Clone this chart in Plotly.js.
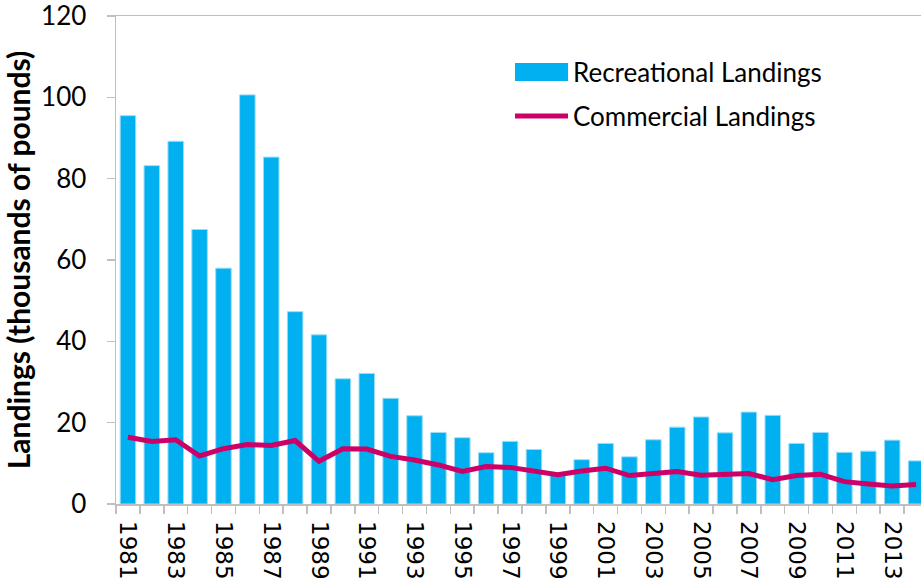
<!DOCTYPE html>
<html>
<head>
<meta charset="utf-8">
<script src="https://cdn.plot.ly/plotly-3.0.1.min.js"></script>
<style>
  html, body { margin: 0; padding: 0; overflow: hidden; background: #ffffff; }
  #chart { width: 940px; height: 581px; }
</style>
</head>
<body>
<div id="chart"></div>
<script>
var years = [1981, 1982, 1983, 1984, 1985, 1986, 1987, 1988, 1989, 1990,
             1991, 1992, 1993, 1994, 1995, 1996, 1997, 1998, 1999, 2000,
             2001, 2002, 2003, 2004, 2005, 2006, 2007, 2008, 2009, 2010,
             2011, 2012, 2013, 2014];
var recreational = [95.5, 83.2, 89.2, 67.5, 58.0, 100.6, 85.3, 47.3, 41.6, 30.8,
                    32.1, 26.0, 21.7, 17.6, 16.3, 12.6, 15.4, 13.4, 7.5, 10.9,
                    14.9, 11.6, 15.8, 18.9, 21.4, 17.5, 22.6, 21.8, 14.9, 17.6,
                    12.7, 13.0, 15.7, 10.6];
var commercial = [16.4, 15.4, 15.8, 11.8, 13.6, 14.6, 14.4, 15.6, 10.5, 13.6,
                  13.5, 11.7, 10.8, 9.6, 8.0, 9.2, 9.0, 8.2, 7.2, 8.1,
                  8.8, 7.0, 7.5, 8.0, 7.1, 7.2, 7.5, 6.0, 7.0, 7.3,
                  5.5, 4.9, 4.4, 4.8];
var xTickVals = [1981, 1983, 1985, 1987, 1989, 1991, 1993, 1995, 1997, 1999,
                 2001, 2003, 2005, 2007, 2009, 2011, 2013];
var xTickText = ["1981", "1983", "1985", "1987", "1989", "1991", "1993", "1995", "1997", "1999",
                 "2001", "2003", "2005", "2007", "2009", "2011", "2013"];
var yTickVals = [0, 20, 40, 60, 80, 100, 120];
var yTickText = ["0", "20", "40", "60", "80", "100", "120"];
var seriesNames = ["Recreational Landings", "Commercial Landings"];

var barColor = "#00B0F0";
var lineColor = "#CC0066";
var axisColor = "#BFBFBF";
var calibriLike = "Lato, 'Open Sans', sans-serif";

var traces = [
  {
    type: "bar",
    x: years,
    y: recreational,
    name: seriesNames[0],
    width: 0.65,
    marker: { color: barColor, line: { color: "#9BDDF7", width: 1 } },
    showlegend: false,
    hoverinfo: "x+y"
  },
  {
    type: "scatter",
    mode: "lines",
    x: years,
    y: commercial,
    name: seriesNames[1],
    line: { color: lineColor, width: 5 },
    showlegend: false,
    hoverinfo: "x+y"
  }
];

var layout = {
  width: 940,
  height: 581,
  margin: { l: 116, r: 12, t: 16, b: 77, pad: 0 },
  paper_bgcolor: "#ffffff",
  plot_bgcolor: "#ffffff",
  showlegend: false,
  xaxis: {
    type: "linear",
    range: [1980.5, 2014.5],
    tickmode: "array",
    tickvals: xTickVals,
    ticktext: xTickText,
    tickangle: 90,
    ticks: "",
    tickfont: { family: "'DejaVu Sans', sans-serif", size: 23, color: "#000000" },
    showgrid: false,
    zeroline: false,
    showline: true,
    linecolor: axisColor,
    linewidth: 1.5,
    mirror: true,
    ticklabelstandoff: 11,
    minor: {
      tickmode: "linear",
      tick0: 1980.5,
      dtick: 1,
      ticks: "outside",
      ticklen: 8,
      tickcolor: axisColor,
      tickwidth: 1.5,
      showgrid: false
    }
  },
  yaxis: {
    range: [0, 120.0001],
    autorange: false,
    tickmode: "array",
    tickvals: yTickVals,
    ticktext: yTickText,
    ticks: "outside",
    ticklen: 8,
    tickwidth: 1.5,
    tickcolor: axisColor,
    tickfont: { family: calibriLike, size: 26, color: "#000000" },
    ticklabelstandoff: 15,
    ticklabeloverflow: "allow",
    showgrid: false,
    zeroline: false,
    showline: true,
    linecolor: axisColor,
    linewidth: 1.5,
    title: {
      text: "Landings (thousands of pounds)",
      font: { family: calibriLike, size: 30, color: "#000000", weight: "bold" },
      standoff: 12
    }
  },
  shapes: [
    { type: "rect", xref: "paper", yref: "paper",
      x0: 0.4914, x1: 0.5567, y0: 0.8668, y1: 0.9037,
      fillcolor: barColor, line: { width: 0 } },
    { type: "line", xref: "paper", yref: "paper",
      x0: 0.4914, x1: 0.5567, y0: 0.795, y1: 0.795,
      line: { color: lineColor, width: 5 } }
  ],
  annotations: [
    { xref: "paper", yref: "paper", x: 0.5603, y: 0.8852,
      xanchor: "left", yanchor: "middle", showarrow: false,
      text: seriesNames[0],
      font: { family: calibriLike, size: 26, color: "#000000" } },
    { xref: "paper", yref: "paper", x: 0.5603, y: 0.795,
      xanchor: "left", yanchor: "middle", showarrow: false,
      text: seriesNames[1],
      font: { family: calibriLike, size: 26, color: "#000000" } }
  ]
};

Plotly.newPlot("chart", traces, layout, { displayModeBar: false, staticPlot: true });
</script>
</body>
</html>
